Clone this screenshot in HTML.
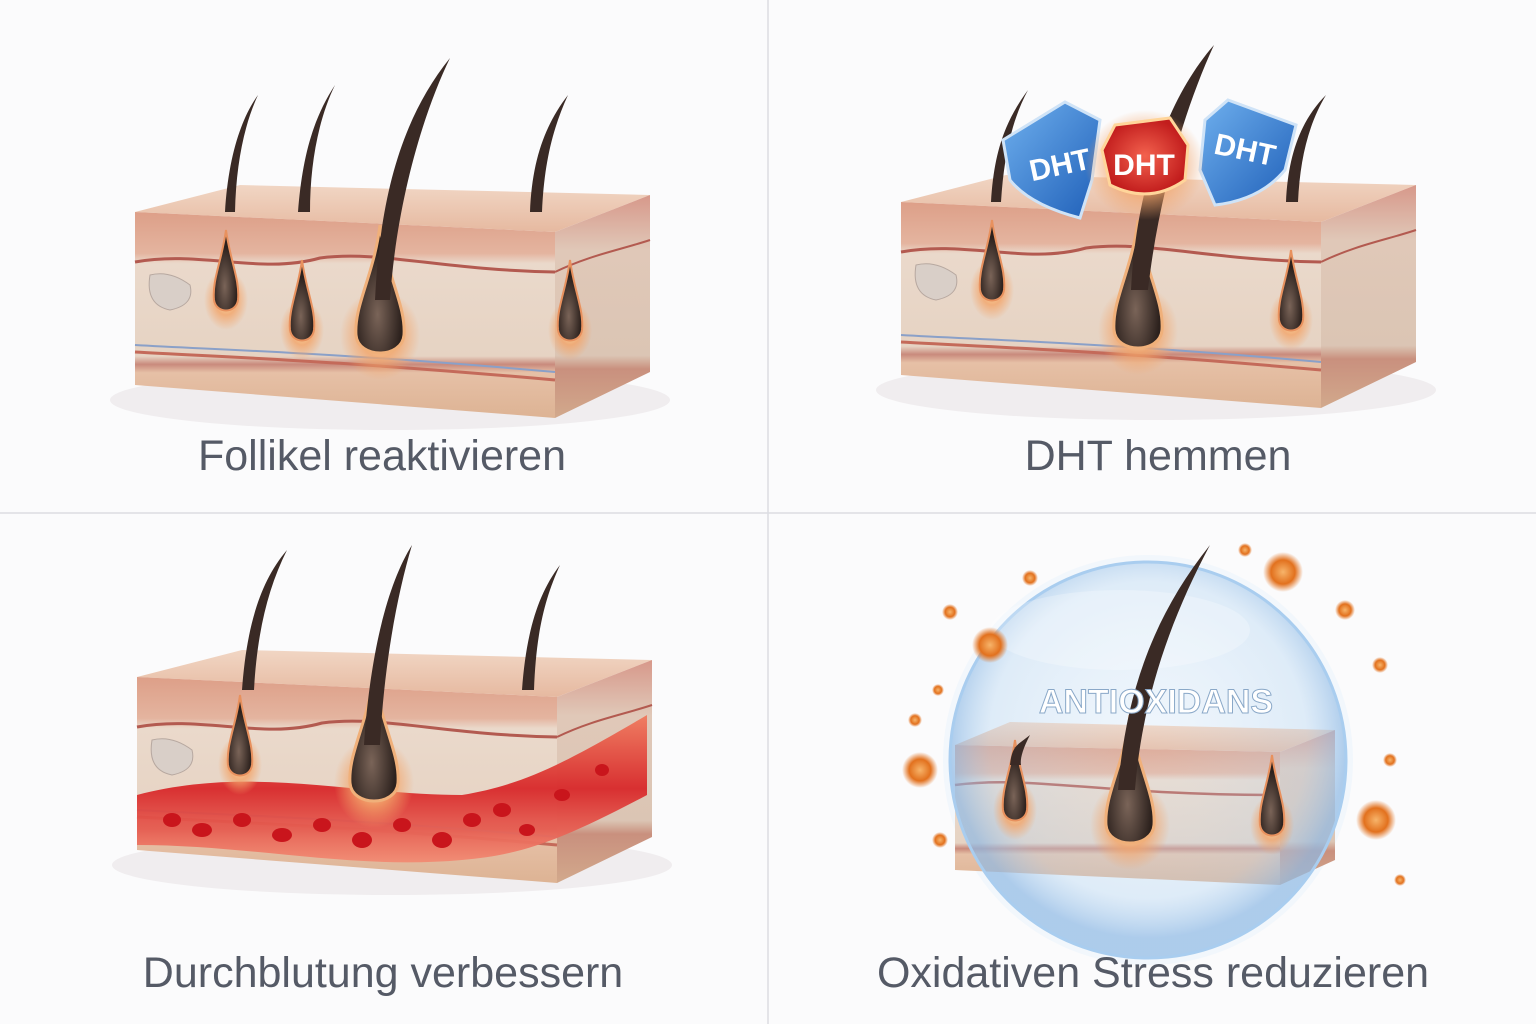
<!DOCTYPE html>
<html><head><meta charset="utf-8">
<style>
html,body{margin:0;padding:0;background:#fbfbfc;}
svg{display:block}
text{font-family:"Liberation Sans",sans-serif}
</style></head>
<body>
<svg width="1536" height="1024" viewBox="0 0 1536 1024" xmlns="http://www.w3.org/2000/svg">
<defs>
  <linearGradient id="top" x1="0" y1="0" x2="0" y2="1">
    <stop offset="0" stop-color="#f1d6c4"/><stop offset="1" stop-color="#e6b9a0"/>
  </linearGradient>
  <linearGradient id="front" x1="0" y1="0" x2="0" y2="1">
    <stop offset="0" stop-color="#dd9f88"/>
    <stop offset="0.2" stop-color="#e4b49f"/>
    <stop offset="0.25" stop-color="#ead9cb"/>
    <stop offset="0.7" stop-color="#e6d3c3"/>
    <stop offset="0.74" stop-color="#c98a7c"/>
    <stop offset="0.78" stop-color="#e6c0a6"/>
    <stop offset="1" stop-color="#ddb394"/>
  </linearGradient>
  <linearGradient id="side" x1="0" y1="0" x2="0" y2="1">
    <stop offset="0" stop-color="#d7988a"/>
    <stop offset="0.25" stop-color="#e0c8b8"/>
    <stop offset="0.72" stop-color="#dbc5b4"/>
    <stop offset="0.78" stop-color="#c9907e"/>
    <stop offset="1" stop-color="#d2a98c"/>
  </linearGradient>
  <radialGradient id="glow"><stop offset="0" stop-color="#ffe6a8"/><stop offset="0.5" stop-color="#f3a56a" stop-opacity="0.8"/><stop offset="1" stop-color="#f3a56a" stop-opacity="0"/></radialGradient>
  <radialGradient id="bulb" cx="0.45" cy="0.7"><stop offset="0" stop-color="#7a6458"/><stop offset="1" stop-color="#2c211d"/></radialGradient>
  <radialGradient id="bubble" cx="0.5" cy="0.45"><stop offset="0" stop-color="#dfeefb" stop-opacity="0.15"/><stop offset="0.8" stop-color="#b9d6f0" stop-opacity="0.35"/><stop offset="1" stop-color="#8fb9e4" stop-opacity="0.7"/></radialGradient>
  <linearGradient id="blood" x1="0" y1="0" x2="0" y2="1"><stop offset="0" stop-color="#f07a5e"/><stop offset="0.5" stop-color="#d8282a"/><stop offset="1" stop-color="#f28b73"/></linearGradient>
  <linearGradient id="shieldB" x1="0" y1="0" x2="1" y2="1"><stop offset="0" stop-color="#6fb0ee"/><stop offset="1" stop-color="#1f5fb8"/></linearGradient>
  <radialGradient id="shieldR"><stop offset="0" stop-color="#f3624e"/><stop offset="1" stop-color="#c21d1d"/></radialGradient>
  <radialGradient id="spark"><stop offset="0" stop-color="#f7b46a"/><stop offset="0.6" stop-color="#e2711e"/><stop offset="1" stop-color="#e2711e" stop-opacity="0"/></radialGradient>

  <g id="block">
    <ellipse cx="390" cy="400" rx="280" ry="30" fill="#e9e4e6" opacity="0.6"/>
    <polygon points="135,212 240,185 650,195 555,232" fill="url(#top)"/>
    <polygon points="135,212 555,232 555,418 135,385" fill="url(#front)"/>
    <polygon points="555,232 650,195 650,372 555,418" fill="url(#side)"/>
    <path d="M135,262 C200,250 260,275 320,258 C380,250 440,270 555,272" stroke="#b35a50" stroke-width="3" fill="none"/>
    <path d="M135,345 C220,350 330,352 555,372" stroke="#8aa0c8" stroke-width="2" fill="none"/>
    <path d="M135,352 C220,357 330,360 555,380" stroke="#c46a5a" stroke-width="3" fill="none"/>
    <path d="M150,275 q20,-5 40,10 q5,20 -20,25 q-25,-5 -20,-35z" fill="#d9cfc8" stroke="#b7a8a0"/>
    <path d="M555,272 C590,255 620,250 650,240" stroke="#b35a50" stroke-width="2" fill="none"/>
  </g>
  <g id="follicleS">
    <ellipse cx="0" cy="0" rx="22" ry="30" fill="url(#glow)"/>
    <path d="M0,-70 C4,-40 14,-20 12,0 C10,14 -10,14 -12,0 C-14,-20 -4,-40 0,-70z" fill="url(#bulb)" stroke="#e8915e" stroke-width="2"/>
  </g>
  <g id="follicleL">
    <ellipse cx="0" cy="0" rx="40" ry="45" fill="url(#glow)"/>
    <path d="M0,-110 C6,-60 26,-30 24,0 C22,24 -22,24 -24,0 C-26,-30 -6,-60 0,-110z" fill="url(#bulb)" stroke="#f0b07a" stroke-width="3"/>
  </g>
</defs>

<rect width="1536" height="1024" fill="#fbfbfc"/>
<line x1="768" y1="0" x2="768" y2="1024" stroke="#dcdde2" stroke-width="1.5"/>
<line x1="0" y1="513" x2="1536" y2="513" stroke="#dcdde2" stroke-width="1.5"/>

<!-- Panel 1 -->
<use href="#block"/>
<use href="#follicleS" x="226" y="300"/>
<use href="#follicleS" x="302" y="330"/>
<use href="#follicleS" x="570" y="330"/>
<use href="#follicleL" x="380" y="335"/>
<path d="M225,212 C228,160 240,120 258,95 C244,125 236,165 235,212z" fill="#3a2a25"/>
<path d="M298,212 C302,160 312,120 335,85 C318,120 310,165 310,212z" fill="#3a2a25"/>
<path d="M375,300 C380,200 400,120 450,58 C420,120 396,210 390,300z" fill="#3a2a25"/>
<path d="M530,212 C532,160 545,125 568,95 C552,130 544,165 542,212z" fill="#3a2a25"/>
<text x="382" y="470" font-size="43" fill="#555a66" text-anchor="middle">Follikel reaktivieren</text>

<!-- Panel 2 -->
<g transform="translate(766,-10)">
  <use href="#block"/>
  <use href="#follicleS" x="226" y="300"/>
  <use href="#follicleS" x="525" y="330"/>
  <use href="#follicleL" x="372" y="340"/>
  <path d="M225,212 C228,160 240,130 262,100 C246,130 238,165 235,212z" fill="#3a2a25"/>
  <path d="M365,300 C370,200 400,110 448,55 C418,120 392,210 382,300z" fill="#3a2a25"/>
  <path d="M520,212 C522,165 535,130 560,105 C542,135 534,170 532,212z" fill="#3a2a25"/>
</g>
<path d="M1003,140 L1065,102 L1100,120 L1092,180 L1080,218 Q1030,205 1010,180z" fill="url(#shieldB)" stroke="#cfe3f7" stroke-width="3"/>
<text x="1060" y="175" font-size="30" font-weight="bold" fill="#fff" text-anchor="middle" transform="rotate(-12 1060 165)">DHT</text>
<path d="M1228,100 L1296,125 L1285,170 Q1260,200 1215,205 L1200,170 L1205,120z" fill="url(#shieldB)" stroke="#cfe3f7" stroke-width="3"/>
<text x="1245" y="160" font-size="30" font-weight="bold" fill="#fff" text-anchor="middle" transform="rotate(12 1245 150)">DHT</text>
<ellipse cx="1145" cy="165" rx="60" ry="55" fill="url(#glow)"/>
<path d="M1115,125 L1170,118 L1188,145 L1185,180 Q1150,205 1110,185 L1102,150z" fill="url(#shieldR)" stroke="#ffd59a" stroke-width="3"/>
<text x="1144" y="175" font-size="30" font-weight="bold" fill="#fff" text-anchor="middle">DHT</text>
<text x="1158" y="470" font-size="43" fill="#555a66" text-anchor="middle">DHT hemmen</text>

<!-- Panel 3 -->
<g transform="translate(2,465)">
  <use href="#block"/>
  <path d="M135,330 C250,300 350,330 460,330 C520,320 560,300 645,250 L645,330 C560,375 520,390 460,395 C350,405 250,380 135,380z" fill="url(#blood)" opacity="0.95"/>
  <g fill="#c9151c">
    <ellipse cx="170" cy="355" rx="9" ry="7"/><ellipse cx="200" cy="365" rx="10" ry="7"/><ellipse cx="240" cy="355" rx="9" ry="7"/>
    <ellipse cx="280" cy="370" rx="10" ry="7"/><ellipse cx="320" cy="360" rx="9" ry="7"/><ellipse cx="360" cy="375" rx="10" ry="8"/>
    <ellipse cx="400" cy="360" rx="9" ry="7"/><ellipse cx="440" cy="375" rx="10" ry="8"/><ellipse cx="470" cy="355" rx="9" ry="7"/>
    <ellipse cx="500" cy="345" rx="9" ry="7"/><ellipse cx="525" cy="365" rx="8" ry="6"/><ellipse cx="560" cy="330" rx="8" ry="6"/>
    <ellipse cx="600" cy="305" rx="7" ry="6"/>
  </g>
  <use href="#follicleS" x="238" y="300"/>
  <use href="#follicleL" x="372" y="318"/>
  <path d="M240,225 C244,170 255,120 285,85 C265,125 255,170 252,225z" fill="#3a2a25"/>
  <path d="M362,280 C368,190 385,120 410,80 C395,130 382,200 378,280z" fill="#3a2a25"/>
  <path d="M520,225 C524,170 535,130 558,100 C542,135 534,170 532,225z" fill="#3a2a25"/>
</g>
<text x="383" y="987" font-size="43" fill="#555a66" text-anchor="middle">Durchblutung verbessern</text>

<!-- Panel 4 -->
<circle cx="1148" cy="760" r="205" fill="#eaf3fb" opacity="0.5"/>
<polygon points="955,745 1010,722 1335,730 1280,752" fill="url(#top)"/>
<polygon points="955,745 1280,752 1280,885 955,870" fill="url(#front)"/>
<polygon points="1280,752 1335,730 1335,860 1280,885" fill="url(#side)"/>
<path d="M955,785 C1030,775 1100,795 1280,795" stroke="#b35a50" stroke-width="2.5" fill="none"/>
<circle cx="1148" cy="760" r="198" fill="url(#bubble)" stroke="#a9cdef" stroke-width="3"/>
<ellipse cx="1120" cy="630" rx="130" ry="40" fill="#fff" opacity="0.25"/>
<use href="#follicleS" x="1015" y="810"/>
<use href="#follicleS" x="1272" y="825"/>
<use href="#follicleL" x="1130" y="825"/>
<path d="M1118,790 C1125,700 1150,620 1210,545 C1170,620 1142,700 1135,790z" fill="#3a2a25"/>
<path d="M1010,765 C1012,745 1018,745 1030,735 C1022,750 1020,760 1021,765z" fill="#3a2a25"/>
<text x="1156" y="713" font-size="34" font-weight="bold" fill="#fff" text-anchor="middle" stroke="#8aa8c8" stroke-width="1">ANTIOXIDANS</text>
<g fill="url(#spark)">
  <circle cx="1283" cy="572" r="20"/><circle cx="990" cy="645" r="18"/><circle cx="920" cy="770" r="18"/>
  <circle cx="1376" cy="820" r="20"/><circle cx="1345" cy="610" r="10"/><circle cx="1030" cy="578" r="8"/>
  <circle cx="950" cy="612" r="8"/><circle cx="915" cy="720" r="7"/><circle cx="940" cy="840" r="8"/>
  <circle cx="1380" cy="665" r="8"/><circle cx="1390" cy="760" r="7"/><circle cx="1245" cy="550" r="7"/>
  <circle cx="1400" cy="880" r="6"/><circle cx="938" cy="690" r="6"/>
</g>
<text x="1153" y="987" font-size="43" fill="#555a66" text-anchor="middle">Oxidativen Stress reduzieren</text>
</svg>
</body></html>
